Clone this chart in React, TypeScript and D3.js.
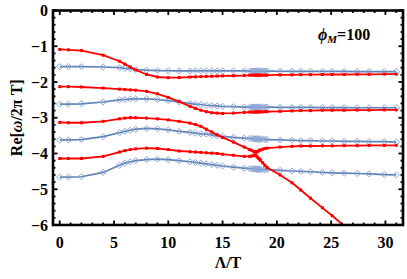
import * as d3 from 'd3';

// sample points along Λ/T (denser around the avoided crossing near 18)
const lambdaT = [0, 0.8, 2, 4, 5.5, 6, 6.5, 7, 8, 9, 10, 11, 12, 12.5, 13, 13.5, 14, 14.5, 15, 16, 17,
  17.5, 17.7, 17.9, 18, 18.1, 18.2, 18.3, 18.4, 18.5, 18.7, 18.9, 19.1,
  20.3, 21.4, 22.2, 23.1, 24.2, 25.1, 26.2, 27.4, 28.5, 29.9, 31];

// blue modes (open diamonds)
const blue1 = [-1.57, -1.57, -1.57, -1.58, -1.6, -1.62, -1.63, -1.65, -1.67, -1.68, -1.685, -1.69, -1.69, -1.69, -1.69, -1.69, -1.69, -1.69, -1.69, -1.69, -1.69,
  -1.695, -1.695, -1.695, -1.695, -1.695, -1.695, -1.695, -1.695, -1.695, -1.695, -1.695, -1.695,
  -1.7, -1.7, -1.7, -1.7, -1.705, -1.705, -1.705, -1.71, -1.71, -1.71, -1.71];
const blue2 = [-2.62, -2.62, -2.61, -2.56, -2.5, -2.49, -2.48, -2.47, -2.47, -2.49, -2.52, -2.56, -2.6, -2.62, -2.63, -2.65, -2.66, -2.67, -2.68, -2.69, -2.7,
  -2.7, -2.7, -2.7, -2.705, -2.705, -2.705, -2.705, -2.705, -2.705, -2.705, -2.705, -2.705,
  -2.71, -2.71, -2.71, -2.71, -2.715, -2.715, -2.715, -2.72, -2.72, -2.72, -2.72];
const blue3 = [-3.62, -3.62, -3.61, -3.53, -3.42, -3.38, -3.35, -3.32, -3.3, -3.31, -3.34, -3.38, -3.41, -3.43, -3.45, -3.46, -3.48, -3.5, -3.52, -3.55, -3.57,
  -3.58, -3.58, -3.59, -3.59, -3.59, -3.6, -3.6, -3.6, -3.6, -3.6, -3.61, -3.61,
  -3.62, -3.63, -3.64, -3.64, -3.65, -3.65, -3.66, -3.66, -3.67, -3.67, -3.68];
const blue4 = [-4.66, -4.66, -4.65, -4.53, -4.33, -4.27, -4.23, -4.2, -4.17, -4.16, -4.17, -4.2, -4.23, -4.25, -4.27, -4.29, -4.31, -4.33, -4.35, -4.38, -4.41,
  -4.42, -4.43, -4.43, -4.43, -4.44, -4.44, -4.44, -4.44, -4.45, -4.45, -4.45, -4.45,
  -4.47, -4.49, -4.5, -4.51, -4.53, -4.54, -4.55, -4.56, -4.57, -4.59, -4.6];

// red modes (filled points)
const red1 = [-1.09, -1.1, -1.12, -1.25, -1.42, -1.5, -1.58, -1.66, -1.79, -1.86, -1.88, -1.875, -1.86, -1.855, -1.85, -1.845, -1.84, -1.835, -1.83, -1.825, -1.82,
  -1.81, -1.81, -1.81, -1.81, -1.81, -1.81, -1.81, -1.81, -1.81, -1.81, -1.81, -1.81,
  -1.8, -1.8, -1.795, -1.795, -1.79, -1.79, -1.79, -1.785, -1.785, -1.78, -1.78];
const red2 = [-2.13, -2.13, -2.14, -2.17, -2.2, -2.21, -2.22, -2.23, -2.26, -2.33, -2.43, -2.55, -2.68, -2.74, -2.79, -2.83, -2.86, -2.87, -2.88, -2.87, -2.85,
  -2.84, -2.84, -2.84, -2.84, -2.84, -2.835, -2.835, -2.835, -2.835, -2.835, -2.83, -2.83,
  -2.82, -2.81, -2.8, -2.8, -2.79, -2.79, -2.79, -2.785, -2.785, -2.78, -2.78];
const red3 = [-3.13, -3.14, -3.14, -3.1, -3.03, -3.01, -3.0, -3.0, -3.01, -3.03, -3.06, -3.1, -3.15, -3.19, -3.24, -3.32, -3.4, -3.48, -3.55, -3.68, -3.82,
  -3.89, -3.92, -3.95, -3.96, -3.96, -3.95, -3.93, -3.91, -3.9, -3.88, -3.86, -3.85,
  -3.82, -3.8, -3.79, -3.79, -3.785, -3.785, -3.78, -3.78, -3.775, -3.775, -3.77];
const red4 = [-4.14, -4.14, -4.14, -4.08, -3.96, -3.92, -3.89, -3.87, -3.85, -3.86, -3.89, -3.93, -3.95, -3.96, -3.97, -3.98, -3.99, -4.0, -4.02, -4.05, -4.08,
  -4.08, -4.07, -4.05, -4.05, -4.07, -4.1, -4.13, -4.16, -4.19, -4.26, -4.33, -4.39,
  -4.6, -4.82, -5.02, -5.25, -5.52, -5.74, -6.03, -6.35, -6.6, -6.95, -7.2];

const blueSeries = [blue1, blue2, blue3, blue4];
const redSeries = [red1, red2, red3, red4];

const xMajor = [0, 5, 10, 15, 20, 25, 30];
const yMajor = [0, -1, -2, -3, -4, -5, -6];

const W = 407;
const H = 279;
const left = 53, right = 403, top = 10.5, bottom = 225;

const BLUE = '#5e81b5';
const DIAMOND = '#8ea8d6';
const RED = '#ff0000';
const FONT = '"Liberation Serif", "DejaVu Serif", serif';

export default function App() {
  const x = d3.scaleLinear().domain([-0.62, 31.62]).range([left, right]);
  const y = d3.scaleLinear().domain([-6, 0]).range([bottom, top]);

  const line = d3.line<number>()
    .x((_, i) => x(lambdaT[i]))
    .y(d => y(d));

  const xMinor = d3.range(0, 32, 1).filter(v => v % 5 !== 0);
  const yMinor = d3.range(-6, 0.001, 0.2)
    .map(v => Math.round(v * 10) / 10)
    .filter(v => Math.abs(v - Math.round(v)) > 0.01);

  const major = 4.5;
  const minor = 2.5;

  return (
    <svg width={W} height={H} style={{ position: 'absolute', left: 0, top: 0, background: '#fff' }}
      fontFamily={FONT}>
      <defs>
        <clipPath id="plot-clip">
          <rect x={left} y={top} width={right - left} height={bottom - top} />
        </clipPath>
      </defs>

      <g clipPath="url(#plot-clip)">
        {blueSeries.map((s, k) => (
          <g key={'b' + k}>
            <path d={line(s) || ''} fill="none" stroke={BLUE} strokeWidth={1.7} />
            {s.map((v, i) => {
              const cx = x(lambdaT[i]);
              const cy = y(v);
              return (
                <path key={i} d={`M${cx - 3.3},${cy}L${cx},${cy - 3}L${cx + 3.3},${cy}L${cx},${cy + 3}Z`}
                  fill="none" stroke={DIAMOND} strokeWidth={1} />
              );
            })}
          </g>
        ))}
        {redSeries.map((s, k) => (
          <g key={'r' + k}>
            <path d={line(s) || ''} fill="none" stroke={RED} strokeWidth={1.8} />
            {s.map((v, i) => (
              <rect key={i} x={x(lambdaT[i]) - 1.5} y={y(v) - 1.5} width={3} height={3} fill={RED} />
            ))}
          </g>
        ))}
      </g>

      {/* ticks, all four sides, pointing inward */}
      <g stroke="#000" strokeWidth={1.8}>
        {xMajor.map(v => (
          <g key={'xm' + v}>
            <line x1={x(v)} x2={x(v)} y1={bottom} y2={bottom - major} />
            <line x1={x(v)} x2={x(v)} y1={top} y2={top + major} />
          </g>
        ))}
        {xMinor.map(v => (
          <g key={'xn' + v}>
            <line x1={x(v)} x2={x(v)} y1={bottom} y2={bottom - minor} />
            <line x1={x(v)} x2={x(v)} y1={top} y2={top + minor} />
          </g>
        ))}
        {yMajor.map(v => (
          <g key={'ym' + v}>
            <line x1={left} x2={left + major} y1={y(v)} y2={y(v)} />
            <line x1={right} x2={right - major} y1={y(v)} y2={y(v)} />
          </g>
        ))}
        {yMinor.map(v => (
          <g key={'yn' + v}>
            <line x1={left} x2={left + minor} y1={y(v)} y2={y(v)} />
            <line x1={right} x2={right - minor} y1={y(v)} y2={y(v)} />
          </g>
        ))}
      </g>

      <rect x={left} y={top} width={right - left} height={bottom - top} fill="none" stroke="#000" strokeWidth={2.6} />

      <g fontSize={16} fontWeight="bold" fill="#000">
        {xMajor.map(v => (
          <text key={'xl' + v} x={x(v)} y={248} textAnchor="middle">{v}</text>
        ))}
        {yMajor.map(v => (
          <text key={'yl' + v} x={48} y={y(v)} dy="0.35em" textAnchor="end">
            {v === 0 ? '0' : '\u2212' + Math.abs(v)}
          </text>
        ))}
      </g>

      <text x={(left + right) / 2} y={268} textAnchor="middle" fontSize={16} fontWeight="bold">Λ/T</text>

      <text transform={`translate(22,${(top + bottom) / 2}) rotate(-90)`} textAnchor="middle" fontSize={16} fontWeight="bold">
        Re[<tspan fontStyle="italic">ω</tspan>/2<tspan>π</tspan> T]
      </text>

      <text x={318} y={40} fontSize={16} fontWeight="bold">
        <tspan fontStyle="italic">ϕ</tspan>
        <tspan fontStyle="italic" fontSize={11} dy={3}>M</tspan>
        <tspan dy={-3}>=100</tspan>
      </text>
    </svg>
  );
}
